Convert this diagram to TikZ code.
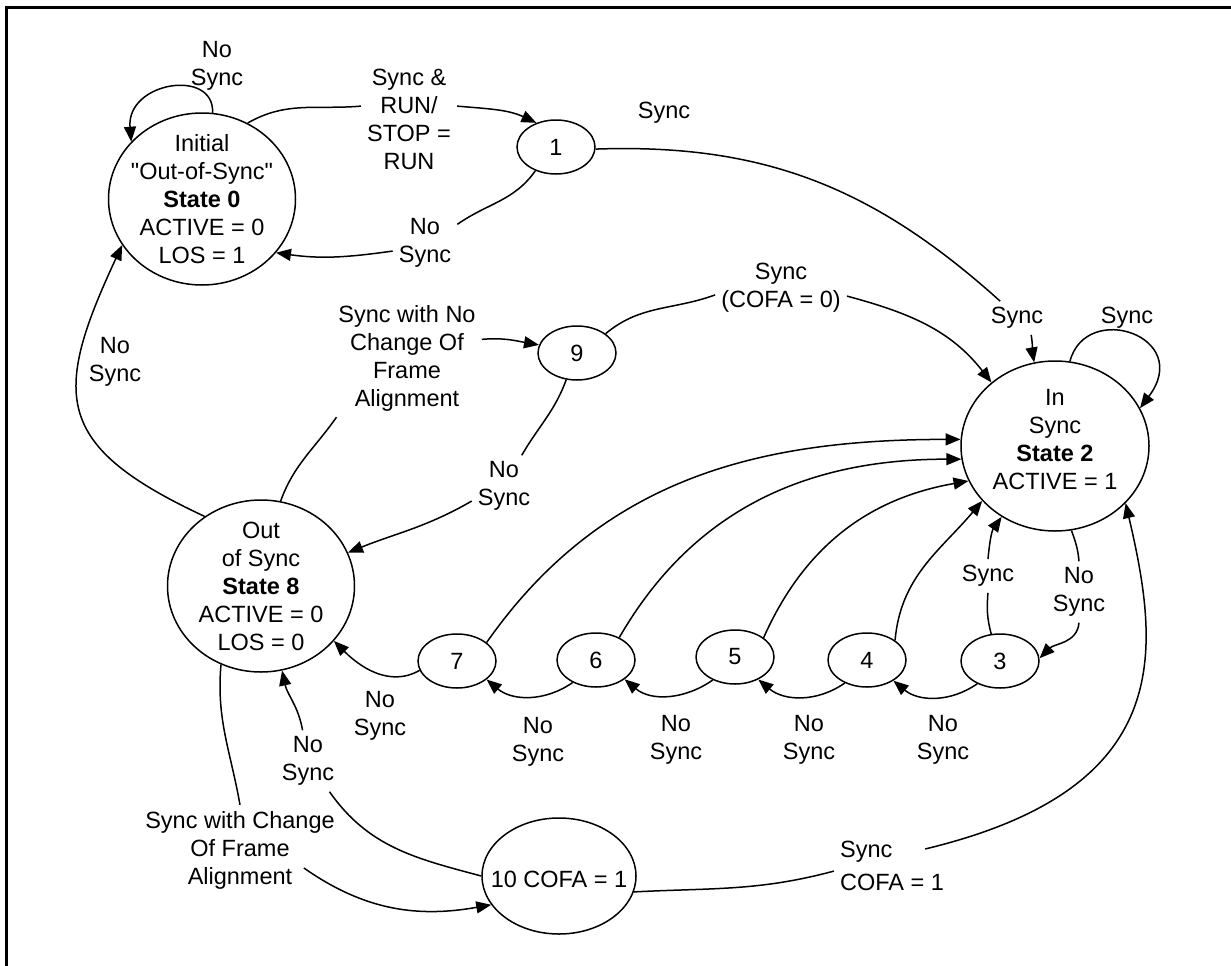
\documentclass[tikz,border=0pt]{standalone}
\usepackage{fontspec}
\setmainfont{Liberation Sans}
\usetikzlibrary{arrows.meta,positioning,shapes.geometric}
\newcommand\diafont{\fontsize{23.5}{28}\selectfont}
\tikzset{
  state/.style={draw, ellipse, line width=1.5pt, inner sep=0pt,
                minimum width=78pt, minimum height=54pt, font=\diafont},
  bigstate/.style={state, minimum width=187pt, minimum height=172pt},
  txt/.style={align=center, inner sep=6pt, font=\diafont},
  flow/.style={-{Triangle[length=15pt,width=12pt]}, line width=1.5pt},
  wire/.style={line width=1.5pt},
}
\begin{document}
\begin{tikzpicture}[x=1pt,y=1pt]
  \useasboundingbox (0,0) rectangle (1231,-966);
  \draw[line width=3pt] (1231,-8) -- (6,-8) -- (6,-966);

  % states
  \node[bigstate] (s0) at (202,-199) {};
  \node[txt] (s0t) at (s0) {Initial\\\textquotedbl Out-of-Sync\textquotedbl\\\textbf{State 0}\\ACTIVE = 0\\LOS = 1};
  \node[bigstate] (s8) at (261,-586) {};
  \node[txt] (s8t) at (s8) {Out\\of Sync\\\textbf{State 8}\\ACTIVE = 0\\LOS = 0};
  \node[bigstate, minimum width=188pt, minimum height=170pt] (s2) at (1055,-446) {};
  \node[txt] (s2t) at (1055,-440) {In\\Sync\\\textbf{State 2}\\ACTIVE = 1};
  \node[state, minimum width=154pt, minimum height=116pt] (s10) at (559,-876) {};
  \node[txt, inner sep=0pt] (s10t) at (559,-879) {10 COFA = 1};
  \node[state] (s1) at (556,-147) {1};
  \node[state] (s9) at (577,-353) {9};
  \node[state] (s3) at (1000,-661) {3};
  \node[state] (s4) at (867,-660) {4};
  \node[state] (s5) at (735,-657) {5};
  \node[state] (s6) at (596,-660) {6};
  \node[state] (s7) at (457,-661) {7};

  % labels
  \node[txt] (l0) at (217,-66) {No\\Sync};
  \node[txt] (l01) at (409,-119) {Sync \&\\RUN/\\STOP =\\RUN};
  \node[txt] (l10) at (425,-243) {No\\Sync};
  \node[txt] (l12a) at (664,-113) {Sync};
  \node[txt] (l12) at (1017,-318) {Sync};
  \node[txt] (l22) at (1127,-318) {Sync};
  \node[txt] (l92) at (781,-288) {Sync\\(COFA = 0)};
  \node[txt] (l89) at (407,-358) {Sync with No\\Change Of\\Frame\\Alignment};
  \node[txt] (l98) at (504,-486) {No\\Sync};
  \node[txt] (l80) at (115,-362) {No\\Sync};
  \node[txt] (l32) at (988,-576) {Sync};
  \node[txt] (l23) at (1079,-592) {No\\Sync};
  \node[txt] (l78) at (380,-716) {No\\Sync};
  \node[txt] (l67) at (538,-742) {No\\Sync};
  \node[txt] (l56) at (676,-740) {No\\Sync};
  \node[txt] (l45) at (809,-740) {No\\Sync};
  \node[txt] (l34) at (943,-740) {No\\Sync};
  \node[txt] (l108) at (308,-761) {No\\Sync};
  \node[txt] (l810) at (240,-850) {Sync with Change\\Of Frame\\Alignment};
  \node[txt, align=left] (l102) at (892,-866) {Sync\\[5pt]COFA = 1};

  % state 0 and 1
  \draw[flow] (s0.83) .. controls +(2,45) and +(-5,60) .. (s0.141);
  \draw[wire] (s0.59) to[out=30,in=185] (l01.165);
  \draw[flow] (l01.15) to[out=-5,in=155] (s1.129);
  \draw[wire] (s1.-131) to[out=-125,in=35] (l10.30);
  \draw[flow] (l10.194) to[out=188,in=-8] (s0.-36);
  \draw[wire] (s1.-3) to[out=2,in=138] (l12.135);
  \draw[flow] (l12.-50) to[out=-80,in=100] (s2.104);
  \draw[flow] (s2.80) .. controls +(16,61) and +(54,72) .. (s2.24);

  % state 9
  \draw[wire] (s9.34) to[out=40,in=200] (l92.186);
  \draw[flow] (l92.-7) to[out=-15,in=128] (s2.135);
  \draw[wire] (s8.77) to[out=70,in=-125] (l89.-140);
  \draw[flow] (l89.14) to[out=5,in=170] (s9.168);
  \draw[wire] (s9.-112) to[out=-110,in=60] (l98.60);
  \draw[flow] (l98.205) to[out=210,in=22] (s8.21);
  \draw[flow] (s8.129) to[out=155,in=-115,looseness=1.5] (s0.-150);

  % state 3 and the chain
  \draw[wire] (s3.108) to[out=105,in=-95] (l32.south);
  \draw[flow] (l32.north) to[out=85,in=-125] (s2.-127);
  \draw[wire] (s2.-79) to[out=-70,in=95] (l23.north);
  \draw[flow] (l23.south) to[out=-95,in=45] (s3.4);
  \draw[flow] (s3.-135) to[out=-145,in=-40] (s4.-38);
  \draw[flow] (s4.-134) to[out=-145,in=-40] (s5.-44);
  \draw[flow] (s5.-134) to[out=-145,in=-40] (s6.-34);
  \draw[flow] (s6.-136) to[out=-145,in=-40] (s7.-32);
  \draw[flow] (s7.-166) to[out=-150,in=-45] (s8.-37);
  \draw[flow] (s7.32) to[out=55,in=180] (s2.176);
  \draw[flow] (s6.44) to[out=60,in=180] (s2.-172);
  \draw[flow] (s5.34) to[out=66,in=-170] (s2.-158);
  \draw[flow] (s4.35) to[out=85,in=-130] (s2.-143);

  % state 10
  \draw[wire] (s8.-117) to[out=-95,in=100] (l810.north);
  \draw[flow] ([shift={(-37pt,-18pt)}]l810.east) to[out=-35,in=190] (s10.-157);
  \draw[wire] (s10.180) to[out=165,in=-55] (l108.-55);
  \draw[flow] (l108.100) to[out=100,in=-78] (s8.-76);
  \draw[wire] (s10.-12) to[out=3,in=195] (l102.185);
  \draw[flow] ([shift={(-25pt,-14pt)}]l102.north east) .. controls +(250,60) and +(35,-150) .. (s2.-39);
\end{tikzpicture}
\end{document}
